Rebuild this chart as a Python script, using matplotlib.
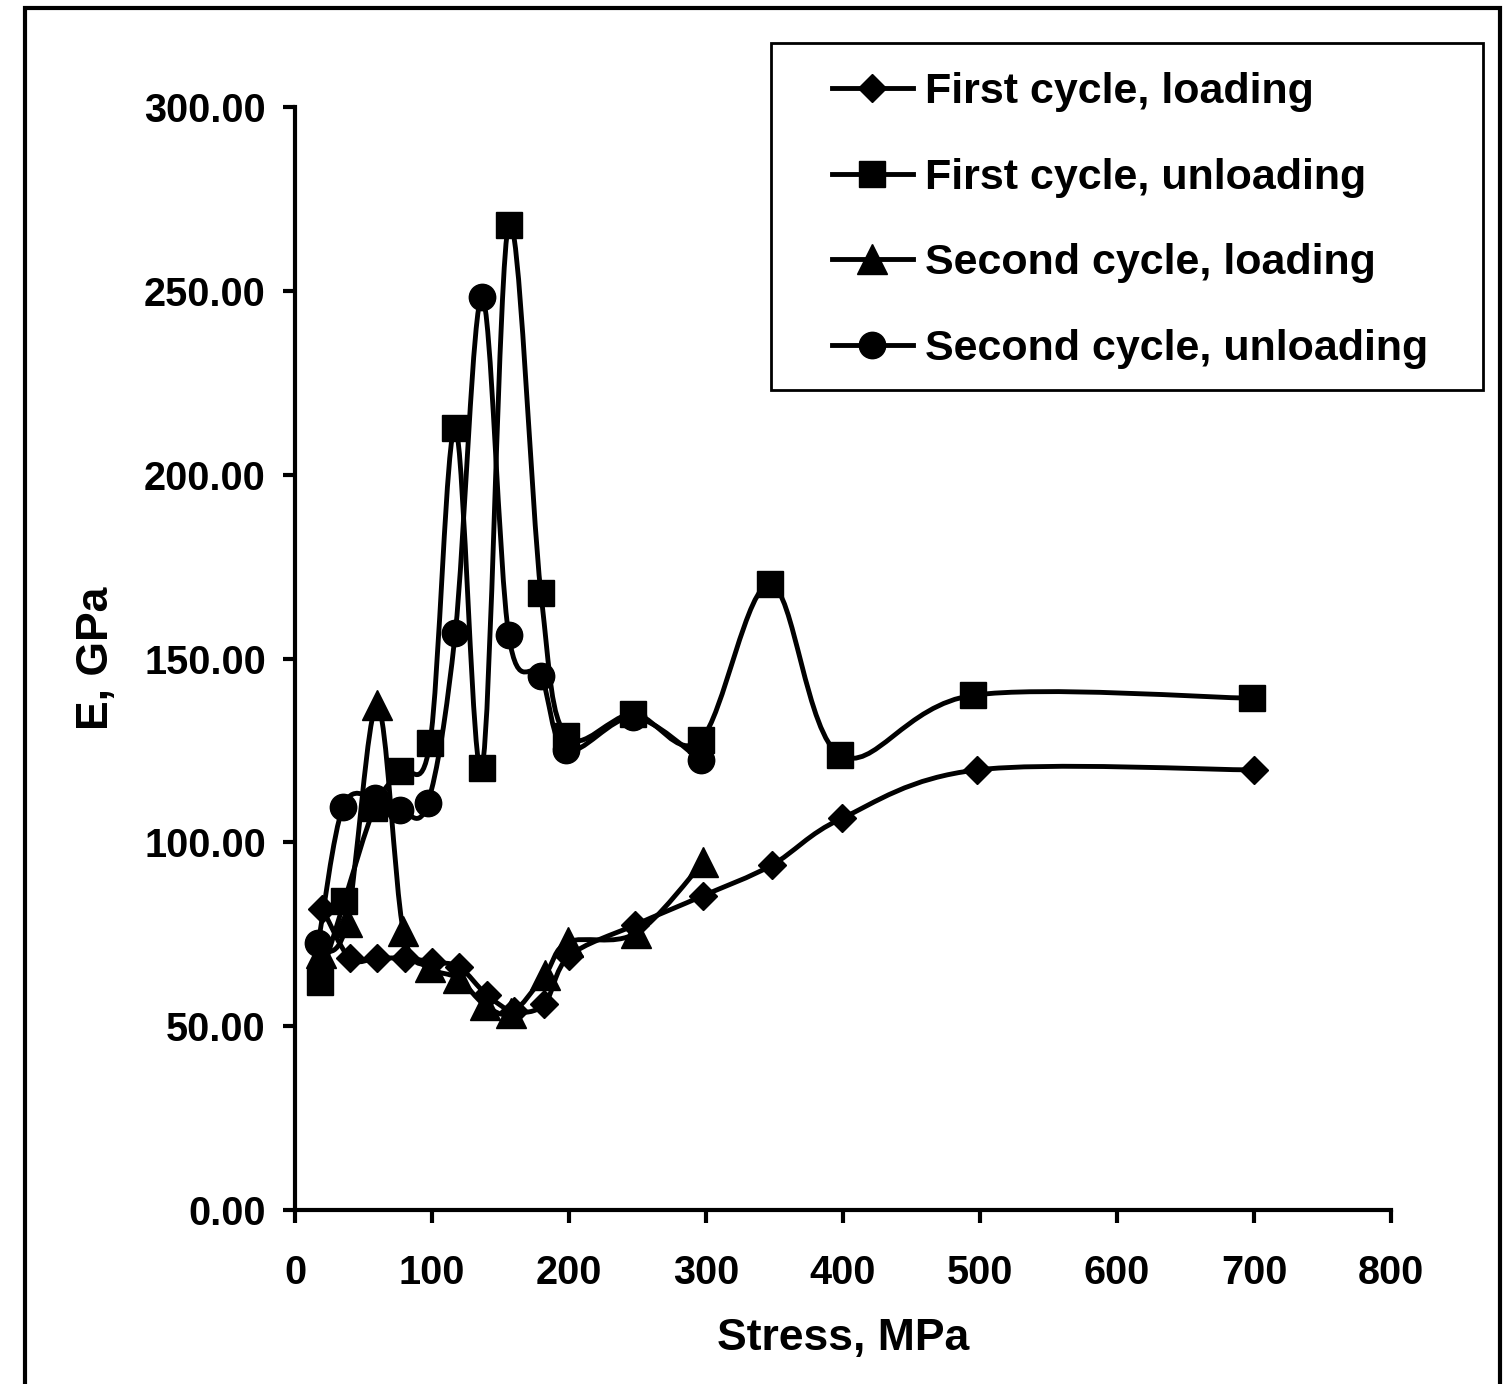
import matplotlib
matplotlib.use("Agg")
import matplotlib.pyplot as plt
import numpy as np
from matplotlib.path import Path
from matplotlib.patches import PathPatch, Rectangle
from matplotlib.lines import Line2D

plt.rcParams['font.family'] = ['Liberation Sans', 'DejaVu Sans']
plt.rcParams['font.weight'] = 'bold'

# ---- data ----
fl_x = [20, 40, 60, 80, 100, 120, 140, 160, 182, 200, 248, 298, 348, 399, 498, 700]
fl_y = [82, 68.5, 68.5, 68.5, 67.5, 66, 58.5, 54, 56, 69, 77.5, 85.5, 93.8, 106.5, 119.7, 119.7]

fu_x = [18, 36, 58, 77, 98.5, 117, 136.5, 156, 179.5, 198, 247, 296, 347, 398, 495, 698.5]
fu_y = [62, 84, 109.3, 119.4, 127, 212.7, 120.2, 268, 167.8, 129, 134.9, 127.8, 170.2, 123.7, 140, 139.2]

sl_x = [19, 38, 60, 79, 98.5, 119, 138.5, 158, 182.5, 199.5, 249, 298]
sl_y = [70, 78.3, 137.3, 76, 66, 63, 55.8, 53.6, 64, 72.9, 75.3, 94.6]

su_x = [17, 35, 58.5, 77, 97, 117, 136.5, 156, 179.5, 198, 247, 296]
su_y = [72.6, 109.6, 112, 108.8, 110.7, 157, 248.3, 156.4, 145.2, 125, 134, 122.4]

labels = ["First cycle, loading", "First cycle, unloading",
          "Second cycle, loading", "Second cycle, unloading"]
markers = ['D', 's', '^', 'o']
msizes = [14, 19, 21, 19]

x_ticks = [0, 100, 200, 300, 400, 500, 600, 700, 800]
y_ticks = [0, 50, 100, 150, 200, 250, 300]

W, H = 1509, 1384
fig = plt.figure(figsize=(W / 100, H / 100), dpi=100)
ax = fig.add_axes([295 / W, 1 - 1210 / H, (1391 - 295) / W, (1210 - 107) / H])

# outer frame
fig.patches.append(Rectangle((25 / W, -0.05), (1500 - 25) / W, 1.05 - 8 / H,
                             transform=fig.transFigure, fill=False,
                             edgecolor='black', linewidth=3, zorder=0))
# legend frame
fig.patches.append(Rectangle((771 / W, 1 - 390 / H), (1483 - 771) / W, (390 - 43) / H,
                             transform=fig.transFigure, fill=True, facecolor='white',
                             edgecolor='black', linewidth=2, zorder=5))


def smooth_path(xs, ys):
    pts = np.column_stack([xs, ys]).astype(float)
    n = len(pts)
    verts = [pts[0]]
    codes = [Path.MOVETO]
    for i in range(n - 1):
        p0 = pts[i - 1] if i > 0 else pts[i]
        p1 = pts[i]
        p2 = pts[i + 1]
        p3 = pts[i + 2] if i + 2 < n else pts[i + 1]
        c1 = p1 + (p2 - p0) / 6.0
        c2 = p2 - (p3 - p1) / 6.0
        verts += [c1, c2, p2]
        codes += [Path.CURVE4] * 3
    return Path(verts, codes)


series = [(fl_x, fl_y), (fu_x, fu_y), (sl_x, sl_y), (su_x, su_y)]
handles = []
for (xs, ys), m, ms, lab in zip(series, markers, msizes, labels):
    patch = PathPatch(smooth_path(xs, ys), facecolor='none', edgecolor='black',
                      linewidth=3.5, transform=ax.transData, zorder=2,
                      capstyle='round', joinstyle='round')
    ax.add_patch(patch)
    ax.plot(xs, ys, linestyle='none', marker=m, markersize=ms, color='black',
            zorder=3)
    handles.append(Line2D([], [], color='black', linewidth=3.5, marker=m,
                          markersize=ms, label=lab))

ax.set_xlim(0, 800)
ax.set_ylim(0, 300)
ax.set_xticks(x_ticks)
ax.set_yticks(y_ticks)
ax.set_xticklabels([str(v) for v in x_ticks])
ax.set_yticklabels([f"{v:.2f}" for v in y_ticks])
for s in ['top', 'right']:
    ax.spines[s].set_visible(False)
for s in ['left', 'bottom']:
    ax.spines[s].set_linewidth(3)
ax.tick_params(direction='out', length=9, width=3, labelsize=28.5, pad=12)
ax.tick_params(axis='x', pad=23)
for t in ax.get_xticklabels() + ax.get_yticklabels():
    t.set_fontweight('bold')

ax.set_xlabel("Stress, MPa", fontsize=32, fontweight='bold')
ax.set_ylabel("E, GPa", fontsize=32, fontweight='bold')
ax.xaxis.set_label_coords(0.5, -0.0976)
ax.yaxis.set_label_coords(-0.1625, 0.5)

leg = fig.legend(handles=handles, loc='upper left',
                 bbox_to_anchor=(832 / W, 1 - 72 / H),
                 fontsize=31, frameon=False,
                 handlelength=1.88, handletextpad=0.28,
                 borderpad=0.0, labelspacing=1.06, borderaxespad=0)
leg.set_zorder(6)
for t in leg.get_texts():
    t.set_fontweight('bold')

fig.savefig("out.png", dpi=100)
